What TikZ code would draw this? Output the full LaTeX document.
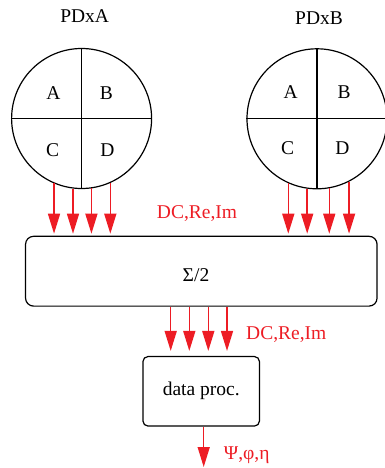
\documentclass[tikz,border=0pt]{standalone}
\usepackage{fontspec}
\setmainfont{Liberation Serif}
\usetikzlibrary{arrows.meta}
\definecolor{sigred}{RGB}{237,28,36}
\begin{document}
\begin{tikzpicture}[x=1pt,y=-1pt,
  every node/.style={font=\fontsize{19.5}{22}\selectfont},
  quad/.style={circle,draw,line width=1.2pt,minimum size=140pt,inner sep=0pt},
  lbl/.style={anchor=base,inner sep=0pt},
  redlbl/.style={lbl,text=sigred},
  sig/.style={draw=sigred,line width=1.5pt,-{Triangle[length=20pt,width=12pt]}},
  box/.style={draw,line width=1.2pt,inner sep=0pt}]
\useasboundingbox (0,0) rectangle (385,468);

% titles
\node[lbl] (ta) at (84.7,22.7) {PDxA};
\node[lbl] (tb) at (319,25) {PDxB};

% quadrant detectors
\node[quad] (ca) at (81.6,118.5) {};
\draw[line width=1.2pt] (ca.north) -- (ca.south);
\draw[line width=1.4pt] (ca.west) -- (ca.east);
\node[lbl] (caA) at (53.3,100) {A};
\node[lbl] (caB) at (106.3,100) {B};
\node[lbl] (caC) at (52.7,156.7) {C};
\node[lbl] (caD) at (107.3,156.7) {D};

\node[quad] (cb) at (317,118.8) {};
\draw[line width=1.2pt] (cb.north) -- (cb.south);
\draw[line width=1.2pt] (cb.west) -- (cb.east);
\node[lbl] (cbA) at (290.7,98.3) {A};
\node[lbl] (cbB) at (344,98.3) {B};
\node[lbl] (cbC) at (287.5,154.3) {C};
\node[lbl] (cbD) at (342.3,154.3) {D};

% sum box
\node[box,rounded corners=8pt,minimum width=351.5pt,minimum height=69.8pt] (sum) at (201.3,271.2) {};
\node[lbl] (sigt) at (196,281.7) {Σ/2};

% data processing box
\node[box,rounded corners=5pt,minimum width=116.5pt,minimum height=69.5pt] (dp) at (201.2,391.3) {data proc.};

% arrows from PDxA
\foreach \a in {-113.8,-97.7,-82.3,-66.2}
  \draw[sig,shorten >=2pt] (ca.\a) -- (ca.\a |- sum.north);
% arrows from PDxB
\foreach \a in {-114.9,-98.2,-80.8,-63.0}
  \draw[sig,shorten >=2pt] (cb.\a) -- (cb.\a |- sum.north);
\node[redlbl] (l1) at (197,218) {DC,Re,Im};

% arrows to data proc.
\foreach \x in {170.7,189.3,208.3,227}
  \draw[sig,shorten >=5pt] (\x,0 |- sum.south) -- (\x,0 |- dp.north);
\node[redlbl] (l2) at (286.3,339.3) {DC,Re,Im};

% output
\coordinate (out) at (203.7,467);
\draw[sig] (out |- dp.south) -- (out);
\node[redlbl] (l3) at (246.7,459) {Ψ,φ,η};
\end{tikzpicture}
\end{document}
